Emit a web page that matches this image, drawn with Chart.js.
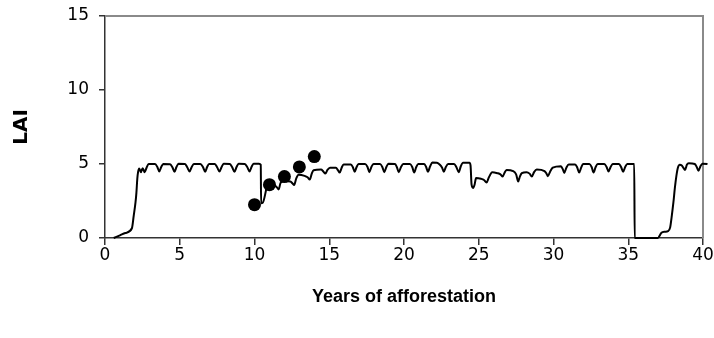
<!DOCTYPE html>
<html>
<head>
<meta charset="utf-8">
<script src="https://cdn.jsdelivr.net/npm/chart.js@4.4.1/dist/chart.umd.min.js"></script>
<style>
  html, body { margin: 0; padding: 0; background: #ffffff; }
  #wrap { width: 714px; height: 338px; }
</style>
</head>
<body>
<div id="wrap"><canvas id="c" width="714" height="338"></canvas></div>
<script>
// Simulated leaf area index over the years since afforestation
const modelYears = [
  0.58, 1.0, 1.36, 1.8, 1.92, 2.04, 2.1, 2.16, 2.22, 2.29, 2.4, 2.52, 2.65, 2.78, 2.92,
  3.35, 3.5, 3.63, 3.76, 3.9, 4.35, 4.5, 4.65, 4.78, 4.92,
  5.35, 5.5, 5.66, 5.8, 5.94, 6.38, 6.55, 6.7, 6.83, 6.96,
  7.35, 7.5, 7.66, 7.8, 7.94, 8.35, 8.5, 8.66, 8.8, 8.94,
  9.35, 9.52, 9.67, 9.8, 9.94, 10.3, 10.42, 10.44, 10.55, 10.85,
  11.0, 11.35, 11.5, 11.62, 11.74, 12.0, 12.4, 12.55, 12.65, 12.8, 12.95,
  13.35, 13.55, 13.7, 13.83, 13.95, 14.45, 14.6, 14.74, 14.88, 15.05,
  15.45, 15.58, 15.7, 15.83, 15.96, 16.45, 16.58, 16.7, 16.83, 16.96,
  17.4, 17.56, 17.68, 17.82, 17.96, 18.4, 18.55, 18.68, 18.82, 18.96,
  19.4, 19.52, 19.65, 19.8, 19.95, 20.4, 20.55, 20.68, 20.82, 20.96,
  21.35, 21.48, 21.6, 21.75, 21.9, 22.2, 22.4, 22.55, 22.66, 22.8, 22.95,
  23.35, 23.5, 23.66, 23.8, 23.95, 24.38, 24.45, 24.52, 24.62, 24.72, 24.82,
  25.15, 25.35, 25.52, 25.68, 25.9, 26.25, 26.45, 26.6, 26.72, 26.86,
  27.3, 27.5, 27.64, 27.75, 27.88, 28.2, 28.4, 28.55, 28.7, 28.88,
  29.4, 29.52, 29.62, 29.78, 29.95, 30.5, 30.62, 30.72, 30.86, 31.02,
  31.45, 31.58, 31.72, 31.85, 31.98, 32.4, 32.55, 32.68, 32.82, 32.96,
  33.4, 33.55, 33.68, 33.82, 33.96, 34.38, 34.52, 34.66, 34.8, 34.94,
  35.4, 35.43, 36.98, 37.22, 37.45, 37.66, 37.8, 37.9, 38.02, 38.12, 38.22,
  38.32, 38.45, 38.58, 38.68, 38.8, 38.92, 39.05, 39.45, 39.58, 39.7, 39.83,
  39.96, 40.3, 40.42, 40.5, 40.58
];
const modelLai = [
  0, 0.18, 0.34, 0.66, 1.5, 2.4, 3.05, 4.0, 4.5, 4.7, 4.45, 4.72, 4.45, 4.75, 5.0,
  5.0, 4.8, 4.5, 4.8, 5.0, 4.98, 4.8, 4.48, 4.8, 5.02,
  5.0, 4.78, 4.5, 4.8, 5.0, 5.0, 4.8, 4.48, 4.8, 5.0,
  5.0, 4.78, 4.5, 4.8, 5.02, 5.0, 4.8, 4.48, 4.8, 5.02,
  5.0, 4.78, 4.5, 4.8, 5.02, 5.02, 4.95, 2.35, 2.38, 3.5,
  3.62, 3.55, 3.42, 3.28, 3.72, 3.85, 3.82, 3.68, 3.58, 4.05, 4.28,
  4.2, 4.1, 3.95, 4.35, 4.58, 4.62, 4.5, 4.35, 4.6, 4.75,
  4.75, 4.58, 4.42, 4.75, 4.97, 4.97, 4.78, 4.48, 4.8, 5.0,
  5.0, 4.8, 4.45, 4.8, 5.0, 5.0, 4.8, 4.45, 4.8, 5.02,
  5.0, 4.8, 4.45, 4.8, 5.0, 5.0, 4.8, 4.42, 4.8, 5.0,
  5.0, 4.8, 4.48, 4.85, 5.1, 5.08, 4.95, 4.75, 4.48, 4.8, 5.0,
  5.0, 4.8, 4.45, 4.85, 5.08, 5.08, 4.9, 3.6, 3.38, 3.6, 4.05,
  4.0, 3.92, 3.75, 4.1, 4.45, 4.38, 4.3, 4.15, 4.4, 4.6,
  4.52, 4.3, 3.82, 4.15, 4.38, 4.45, 4.35, 4.15, 4.45, 4.63,
  4.52, 4.38, 4.18, 4.5, 4.75, 4.85, 4.65, 4.4, 4.75, 4.97,
  4.97, 4.78, 4.42, 4.75, 5.0, 5.0, 4.8, 4.42, 4.8, 5.0,
  5.0, 4.8, 4.5, 4.8, 5.0, 5.0, 4.8, 4.48, 4.82, 5.0,
  5.0, 0, 0, 0.35, 0.42, 0.46, 0.7, 1.4, 2.4, 3.4, 4.2,
  4.75, 4.95, 4.9, 4.75, 4.6, 4.95, 5.05, 5.0, 4.8, 4.55, 4.85,
  5.02, 5.0, 4.8, 4.6, 4.75
];

// Measured LAI in the stand
const obsYears = [10, 11, 12, 13, 14];
const obsLai = [2.25, 3.6, 4.15, 4.8, 5.5];

// Axis tick values
const xTickValues = [0, 5, 10, 15, 20, 25, 30, 35, 40];
const yTickValues = [0, 5, 10, 15];

const modelPoints = modelYears.map((x, i) => ({ x: x, y: modelLai[i] }));
const obsPoints = obsYears.map((x, i) => ({ x: x, y: obsLai[i] }));

// Grey frame on the top and right edges of the plot area
const frame = {
  id: 'frame',
  beforeDatasetsDraw(chart) {
    const { ctx, chartArea: a } = chart;
    ctx.save();
    ctx.strokeStyle = '#8a8a8a';
    ctx.lineWidth = 2;
    ctx.beginPath();
    ctx.moveTo(a.left, a.top);
    ctx.lineTo(a.right, a.top);
    ctx.lineTo(a.right, a.bottom);
    ctx.stroke();
    ctx.restore();
  }
};

const tickFont = { family: 'DejaVu Sans', size: 17 };
const xTitleFont = { family: 'Liberation Sans', size: 18, weight: 'bold' };
const yTitleFont = { family: 'DejaVu Sans', size: 20, weight: 'bold' };

new Chart(document.getElementById('c'), {
  type: 'scatter',
  data: {
    datasets: [
      {
        label: 'Measured',
        data: obsPoints,
        showLine: false,
        pointRadius: 6.5,
        pointBackgroundColor: '#000',
        pointBorderColor: '#000',
        pointBorderWidth: 0,
        order: 0
      },
      {
        label: 'Model',
        data: modelPoints,
        showLine: true,
        borderColor: '#000',
        borderWidth: 2,
        pointRadius: 0,
        cubicInterpolationMode: 'monotone',
        clip: false,
        order: 1
      }
    ]
  },
  options: {
    responsive: false,
    animation: false,
    devicePixelRatio: 1,
    layout: { padding: { top: 16, right: 11, left: 0, bottom: 0 } },
    plugins: { legend: { display: false }, tooltip: { enabled: false } },
    scales: {
      x: {
        type: 'linear',
        min: 0,
        max: 40,
        afterBuildTicks: (s) => { s.ticks = xTickValues.map(v => ({ value: v })); },
        afterFit: (s) => { s.height = 100; s.paddingRight = 0; s.paddingLeft = 0; },
        ticks: { color: '#000', font: tickFont, padding: 0, maxRotation: 0 },
        grid: { display: true, drawOnChartArea: false, drawTicks: true, tickLength: 7, color: '#333', lineWidth: 1.5 },
        border: { display: true, color: '#333', width: 1.5 },
        title: { display: true, text: 'Years of afforestation', color: '#000', font: xTitleFont, padding: { top: 0, bottom: 30 } }
      },
      y: {
        type: 'linear',
        min: 0,
        max: 15,
        afterBuildTicks: (s) => { s.ticks = yTickValues.map(v => ({ value: v })); },
        afterFit: (s) => { s.width = 105; s.paddingTop = 0; s.paddingBottom = 0; },
        ticks: { color: '#000', font: tickFont, padding: 10 },
        grid: { display: true, drawOnChartArea: false, drawTicks: true, tickLength: 6, color: '#333', lineWidth: 1.5 },
        border: { display: true, color: '#333', width: 1.5 },
        title: { display: true, text: 'LAI', color: '#000', font: yTitleFont, padding: { top: 10, bottom: 0 } }
      }
    }
  },
  plugins: [frame]
});
</script>
</body>
</html>
